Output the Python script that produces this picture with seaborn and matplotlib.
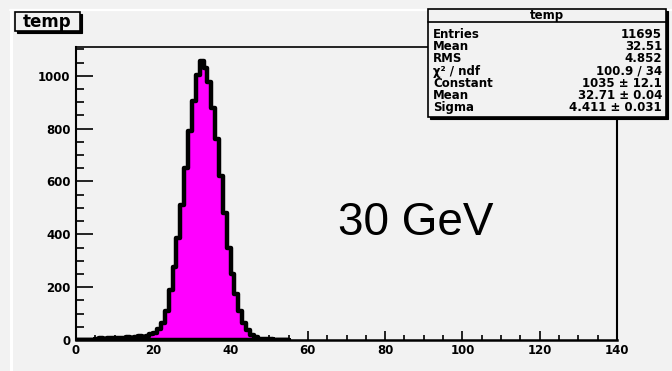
import matplotlib
matplotlib.use("Agg")
import matplotlib.pyplot as plt
from matplotlib.patches import Rectangle
from matplotlib.lines import Line2D
from matplotlib.ticker import MultipleLocator
import seaborn as sns

# Energy histogram "temp": 1-unit bins starting at 0 (bins beyond 55 are empty)
bin_edges = list(range(0, 56))
counts = [
    0, 0, 0, 0, 0, 4, 6, 5, 7, 8,
    6, 9, 8, 10, 9, 12, 14, 13, 17, 22,
    28, 41, 64, 108, 190, 275, 385, 510, 650, 790,
    905, 1005, 1058, 1030, 975, 880, 760, 620, 480, 350,
    250, 175, 110, 66, 38, 20, 10, 5, 3, 2,
    2, 1, 1, 1, 0,
]
x_range = (0, 140)
y_max = 1111
x_ticks = [0, 20, 40, 60, 80, 100, 120, 140]
y_ticks = [0, 200, 400, 600, 800, 1000]

hist_name = "temp"
stat_labels = ["Entries", "Mean", "RMS", "χ² / ndf", "Constant", "Mean", "Sigma"]
stat_values = ["11695", "32.51", "4.852", "100.9 / 34",
               "1035 ± 12.1", "32.71 ± 0.04", "4.411 ± 0.031"]
energy_label = "30 GeV"

W, H = 672, 371
BG = "#f2f2f2"

sns.set_style("ticks")
plt.rcParams["font.family"] = ["DejaVu Sans"]
plt.rcParams["text.color"] = "black"
plt.rcParams["xtick.color"] = "black"
plt.rcParams["ytick.color"] = "black"

fig = plt.figure(figsize=(W / 100, H / 100), dpi=100, facecolor=BG)


def fx(px):
    return px / W


def fy(py):
    return 1 - py / H


# Canvas bevel highlight
fig.add_artist(Line2D([fx(10), fx(W)], [fy(10), fy(10)], color="white", lw=1.6,
                      transform=fig.transFigure))
fig.add_artist(Line2D([fx(11), fx(11)], [fy(10), fy(H)], color="white", lw=2.2,
                      transform=fig.transFigure))

left, right, top, bottom = 76, 617, 46.5, 340
ax = fig.add_axes([fx(left), fy(bottom), fx(right - left), (bottom - top) / H])
ax.set_facecolor(BG)

centers = [b + 0.5 for b in bin_edges[:-1]]
sns.histplot(x=centers, weights=counts, bins=bin_edges, element="step",
             fill=True, color="#ff00ff", alpha=1, edgecolor="black",
             linewidth=3.2, ax=ax)

ax.set_xlim(*x_range)
ax.set_ylim(0, y_max)
ax.set_xlabel("")
ax.set_ylabel("")
ax.set_xticks(x_ticks)
ax.set_yticks(y_ticks)
ax.xaxis.set_minor_locator(MultipleLocator(5))
ax.yaxis.set_minor_locator(MultipleLocator(50))

for side in ["top", "right", "bottom", "left"]:
    ax.spines[side].set_visible(True)
    ax.spines[side].set_color("black")
ax.spines["bottom"].set_linewidth(1.8)
ax.spines["left"].set_linewidth(1.5)
ax.spines["top"].set_linewidth(1.2)
ax.spines["right"].set_linewidth(1.5)

tick_font = dict(family="DejaVu Sans", weight="bold", size=8.5)
ax.tick_params(axis="x", which="major", direction="in", length=6.5, width=1.2,
               pad=3, top=False, colors="black")
ax.tick_params(axis="x", which="minor", direction="in", length=3.6, width=1.2,
               top=False, colors="black")
ax.tick_params(axis="y", which="major", direction="in", length=12, width=1.2,
               pad=4, right=False, colors="black")
ax.tick_params(axis="y", which="minor", direction="in", length=6, width=1.2,
               right=False, colors="black")
for lab in ax.get_xticklabels() + ax.get_yticklabels():
    lab.set_fontproperties(tick_font)
    lab.set_color("black")

# Energy annotation
fig.text(fx(416), fy(223), energy_label, ha="center", va="center",
         family="Liberation Sans", fontsize=33, color="black")

# Title box
tb_l, tb_t, tb_r, tb_b = 15, 12, 80, 31
fig.add_artist(Rectangle((fx(tb_l + 2), fy(tb_b + 2)), fx(tb_r - tb_l), (tb_b - tb_t) / H,
                         transform=fig.transFigure, facecolor="black",
                         edgecolor="black", lw=0.8, zorder=5))
fig.add_artist(Rectangle((fx(tb_l), fy(tb_b)), fx(tb_r - tb_l), (tb_b - tb_t) / H,
                         transform=fig.transFigure, facecolor=BG,
                         edgecolor="black", lw=1.2, zorder=6))
fig.text(fx((tb_l + tb_r) / 2), fy((tb_t + tb_b) / 2 + 0.5), hist_name,
         ha="center", va="center", family="DejaVu Sans", weight="bold",
         fontsize=12, color="black", zorder=7)

# Statistics box
sb_l, sb_t, sb_r, sb_b = 428, 9, 666, 117
fig.add_artist(Rectangle((fx(sb_l + 2), fy(sb_b + 2)), fx(sb_r - sb_l), (sb_b - sb_t) / H,
                         transform=fig.transFigure, facecolor="black",
                         edgecolor="black", lw=0.8, zorder=5))
fig.add_artist(Rectangle((fx(sb_l), fy(sb_b)), fx(sb_r - sb_l), (sb_b - sb_t) / H,
                         transform=fig.transFigure, facecolor=BG,
                         edgecolor="black", lw=1.2, zorder=6))
head_y = 22
fig.add_artist(Line2D([fx(sb_l), fx(sb_r)], [fy(head_y), fy(head_y)], color="black",
                      lw=1.2, transform=fig.transFigure, zorder=7))
fig.text(fx((sb_l + sb_r) / 2), fy(15.5), hist_name, ha="center", va="center",
         family="DejaVu Sans", weight="bold", fontsize=8.5, color="black", zorder=7)

row0, row_step = 34.5, 12.2
for i, (lab, val) in enumerate(zip(stat_labels, stat_values)):
    yy = fy(row0 + i * row_step)
    fig.text(fx(sb_l + 5), yy, lab, ha="left", va="center", family="DejaVu Sans",
             weight="bold", fontsize=8.5, color="black", zorder=7)
    fig.text(fx(sb_r - 4), yy, val, ha="right", va="center", family="DejaVu Sans",
             weight="bold", fontsize=8.5, color="black", zorder=7)

fig.savefig("out.png", dpi=100, facecolor=BG)
